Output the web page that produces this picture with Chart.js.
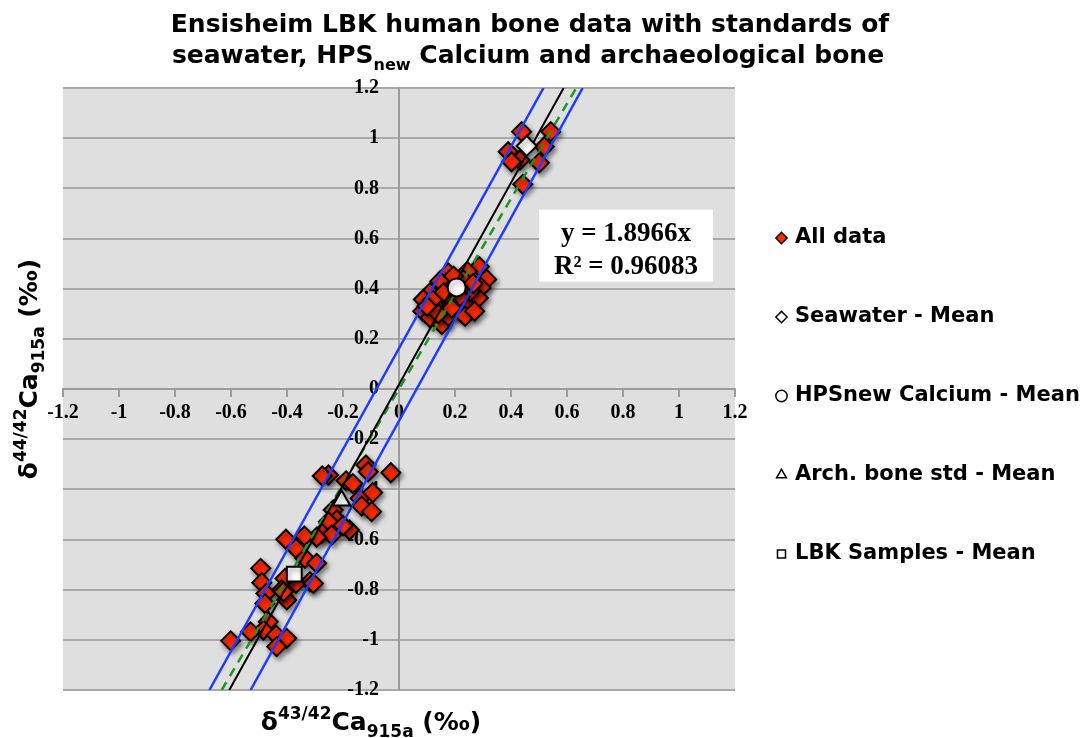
<!DOCTYPE html>
<html>
<head>
<meta charset="utf-8">
<script src="https://cdn.jsdelivr.net/npm/chart.js@4.4.1/dist/chart.umd.min.js"></script>
<style>
  html, body { margin: 0; padding: 0; background: #fff; }
  #wrap { width: 1088px; height: 738px; }
</style>
</head>
<body>
<div id="wrap"><canvas id="chart" width="1088" height="738"></canvas></div>
<script>
// 数据 (δ43/42Ca, δ44/42Ca) 读自原图
var allData = [
  // 海水附近
  [0.438, 1.026], [0.542, 1.026], [0.390, 0.946], [0.519, 0.966], [0.432, 0.913],
  [0.402, 0.906], [0.501, 0.902], [0.442, 0.816],
  // HPSnew 附近
  [0.287, 0.488], [0.244, 0.469], [0.176, 0.463], [0.313, 0.437], [0.293, 0.404],
  [0.146, 0.430], [0.111, 0.384], [0.087, 0.357], [0.085, 0.310], [0.111, 0.284],
  [0.153, 0.257], [0.176, 0.290], [0.218, 0.310], [0.254, 0.337], [0.283, 0.363],
  [0.254, 0.388], [0.218, 0.368], [0.170, 0.348], [0.135, 0.328], [0.200, 0.415],
  [0.230, 0.435], [0.159, 0.384], [0.188, 0.322], [0.236, 0.290], [0.270, 0.310],
  [0.120, 0.355], [0.195, 0.450], [0.265, 0.420], [0.140, 0.300], [0.100, 0.330],
  // 骨样
  [-0.252, -0.343], [-0.274, -0.347], [-0.118, -0.303], [-0.110, -0.330], [-0.029, -0.334],
  [-0.189, -0.366], [-0.165, -0.377], [-0.139, -0.436], [-0.094, -0.413], [-0.133, -0.467],
  [-0.098, -0.489], [-0.235, -0.482], [-0.222, -0.522], [-0.252, -0.529], [-0.177, -0.562],
  [-0.200, -0.545], [-0.276, -0.575], [-0.240, -0.582], [-0.294, -0.591], [-0.338, -0.586],
  [-0.404, -0.599], [-0.368, -0.635], [-0.336, -0.675], [-0.294, -0.695], [-0.494, -0.715],
  [-0.318, -0.768], [-0.368, -0.775], [-0.407, -0.755], [-0.490, -0.772], [-0.475, -0.815],
  [-0.479, -0.855], [-0.401, -0.841], [-0.419, -0.801], [-0.467, -0.928], [-0.484, -0.961],
  [-0.530, -0.968], [-0.601, -1.004], [-0.439, -0.981], [-0.401, -0.994], [-0.437, -1.027],
  [-0.413, -0.808], [-0.306, -0.775]
];
var seawaterMean = [[0.456, 0.969]];
var hpsMean = [[0.206, 0.405]];
var archBoneMean = [[-0.205, -0.445]];
var lbkMean = [[-0.374, -0.738]];

// 线 (端点)
var trendLine = [[-0.633, -1.2], [0.633, 1.2]];   // y = 1.8966x
var blackLine = [[-0.606, -1.2], [0.588, 1.2]];
var blueUpper = [[-0.677, -1.2], [0.516, 1.2]];
var blueLower = [[-0.530, -1.2], [0.656, 1.2]];

var axisMin = -1.2, axisMax = 1.2, axisStep = 0.2;
var seriesNames = ['All data', 'Seawater - Mean', 'HPSnew Calcium - Mean', 'Arch. bone std - Mean', 'LBK Samples - Mean'];

function pts(arr) {
    return arr.map(function (p) { return { x: p[0], y: p[1] }; });
}

var SANS = '"DejaVu Sans", Verdana, sans-serif';
var SERIF = '"Liberation Serif", "Times New Roman", serif';

// 图例宽度 -> 右边距, 使绘图区右边界落在 735
var legendPad = 43.5, legendFont = 21, legendBox = 6;
var mctx = document.createElement('canvas').getContext('2d');
mctx.font = 'bold ' + legendFont + 'px ' + SANS;
var maxText = Math.max.apply(null, seriesNames.map(function (t) { return mctx.measureText(t).width; }));
var legendWidth = legendPad + legendBox + legendFont / 2 + maxText + 10;
var padRight = 1088 - 735 - legendWidth;

// 带上下标的文字
function richText(ctx, parts, x, y) {
    var w = 0;
    parts.forEach(function (p) {
        ctx.font = 'bold ' + p.size + 'px ' + SANS;
        p.w = ctx.measureText(p.t).width;
        w += p.w;
    });
    var cx = x - w / 2;
    ctx.textAlign = 'left';
    ctx.textBaseline = 'alphabetic';
    parts.forEach(function (p) {
        ctx.font = 'bold ' + p.size + 'px ' + SANS;
        ctx.fillText(p.t, cx, y + (p.dy || 0));
        cx += p.w;
    });
}

function axisTitle(sup) {
    return [
        { t: 'δ', size: 25 },
        { t: sup, size: 17, dy: -11 },
        { t: 'Ca', size: 25 },
        { t: '915a', size: 17, dy: 7 },
        { t: ' (‰)', size: 25 }
    ];
}

var decor = {
    id: 'decor',
    beforeDraw: function (chart) {
        var a = chart.chartArea, ctx = chart.ctx;
        ctx.save();
        ctx.fillStyle = '#dfdfdf';
        ctx.fillRect(a.left, a.top, a.right - a.left, a.bottom - a.top);
        ctx.restore();
    },
    beforeDatasetDraw: function (chart, args) {
        var ctx = chart.ctx;
        ctx.save();
        if (!chart.data.datasets[args.index].isLine) {//阴影
            ctx.shadowColor = 'rgba(0,0,0,0.45)';
            ctx.shadowBlur = 5;
            ctx.shadowOffsetX = 2;
            ctx.shadowOffsetY = 3;
        }
    },
    afterDatasetDraw: function (chart) {
        chart.ctx.restore();
    },
    afterDraw: function (chart) {
        var ctx = chart.ctx, sx = chart.scales.x, sy = chart.scales.y;
        ctx.save();
        ctx.fillStyle = '#000';
        // 标题
        richText(ctx, [{ t: 'Ensisheim LBK human bone data with standards of', size: 25 }], 530, 32);
        richText(ctx, [
            { t: 'seawater, HPS', size: 25 },
            { t: 'new', size: 16, dy: 7 },
            { t: ' Calcium and archaeological bone', size: 25 }
        ], 528, 63);
        // x 轴标题
        richText(ctx, axisTitle('43/42'), 371, 730);
        // y 轴标题
        ctx.save();
        ctx.translate(37, 369);
        ctx.rotate(-Math.PI / 2);
        richText(ctx, axisTitle('44/42'), 0, 0);
        ctx.restore();
        // 回归方程
        var bx = sx.getPixelForValue(0.5), by = sy.getPixelForValue(0.715);
        ctx.fillStyle = '#fff';
        ctx.fillRect(bx, by, 174, 72);
        ctx.fillStyle = '#000';
        ctx.font = 'bold 27px ' + SERIF;
        ctx.textAlign = 'center';
        ctx.textBaseline = 'alphabetic';
        ctx.fillText('y = 1.8966x', bx + 87, by + 31);
        ctx.fillText('R² = 0.96083', bx + 87, by + 64);
        ctx.restore();
    }
};

function markerSet(label, data, style, radius, fill, order) {
    return {
        label: label, data: pts(data), pointStyle: style, pointRadius: radius, pointHoverRadius: radius,
        backgroundColor: fill, borderColor: '#000', borderWidth: 2, order: order
    };
}

function lineSet(data, color, width, dash) {
    return {
        label: '', isLine: true, data: pts(data), showLine: true, pointRadius: 0,
        borderColor: color, borderWidth: width, borderDash: dash || [], backgroundColor: color,
        fill: false, order: 1
    };
}

var datasets = [
    markerSet(seriesNames[0], allData, 'rectRot', 9.5, '#ff2a00', 2),
    markerSet(seriesNames[1], seawaterMean, 'rectRot', 10, '#fff', 0),
    markerSet(seriesNames[2], hpsMean, 'circle', 9, '#fff', 0),
    markerSet(seriesNames[3], archBoneMean, 'triangle', 10, '#fff', 0),
    markerSet(seriesNames[4], lbkMean, 'rect', 10.5, '#fff', 0),
    lineSet(blueUpper, '#1c3dff', 2.5),
    lineSet(blueLower, '#1c3dff', 2.5),
    lineSet(blackLine, '#000', 2),
    lineSet(trendLine, '#1e961e', 2.5, [9, 7])
];

function fmt(v) {
    return String(Math.round(v * 10) / 10);
}

function tickCfg(cb, pad) {
    return {
        stepSize: axisStep, autoSkip: false, maxRotation: 0, color: '#000', padding: pad,
        font: { family: SERIF, weight: 'bold', size: 20 },
        callback: cb
    };
}

// y 轴标签贴着轴线, 用尾部空格留出间隙
var xTicks = tickCfg(fmt, 5);
var yTicks = tickCfg(function (v) { return fmt(v) + '    '; }, 0);

var chart = new Chart(document.getElementById('chart'), {
    type: 'scatter',
    data: { datasets: datasets },
    plugins: [decor],
    options: {
        responsive: false,
        animation: false,
        devicePixelRatio: 1,
        layout: { padding: { left: 63, top: 88, right: padRight, bottom: 48 } },
        plugins: {
            title: { display: false },
            tooltip: { enabled: false },
            legend: {
                position: 'right',
                align: 'center',
                maxWidth: legendWidth + 50,
                title: { display: true, text: ' ', font: { size: 10, lineHeight: '28.5px' }, padding: 0 },
                labels: {
                    usePointStyle: true, boxWidth: legendBox, boxHeight: 8, padding: legendPad, color: '#000',
                    font: { family: SANS, weight: 'bold', size: legendFont, lineHeight: 1.69 },
                    filter: function (item, data) { return !data.datasets[item.datasetIndex].isLine; },
                    sort: function (a, b) { return a.datasetIndex - b.datasetIndex; },
                    generateLabels: function (c) {
                        return Chart.defaults.plugins.legend.labels.generateLabels(c).map(function (l) {
                            l.text = [l.text];
                            l.lineWidth = 1.5;
                            return l;
                        });
                    }
                }
            }
        },
        scales: {
            x: {
                type: 'linear', min: axisMin, max: axisMax, position: { y: 0 },
                ticks: xTicks,
                grid: { drawOnChartArea: false, drawTicks: true, tickLength: 7, color: '#9c9c9c', lineWidth: 2 },
                border: { color: '#9c9c9c', width: 2 }
            },
            y: {
                type: 'linear', min: axisMin, max: axisMax, position: { x: 0 },
                ticks: yTicks,
                grid: { drawTicks: true, tickLength: 6, color: '#a9a9a9', lineWidth: 2 },
                border: { color: '#9c9c9c', width: 2 }
            }
        }
    }
});
</script>
</body>
</html>
